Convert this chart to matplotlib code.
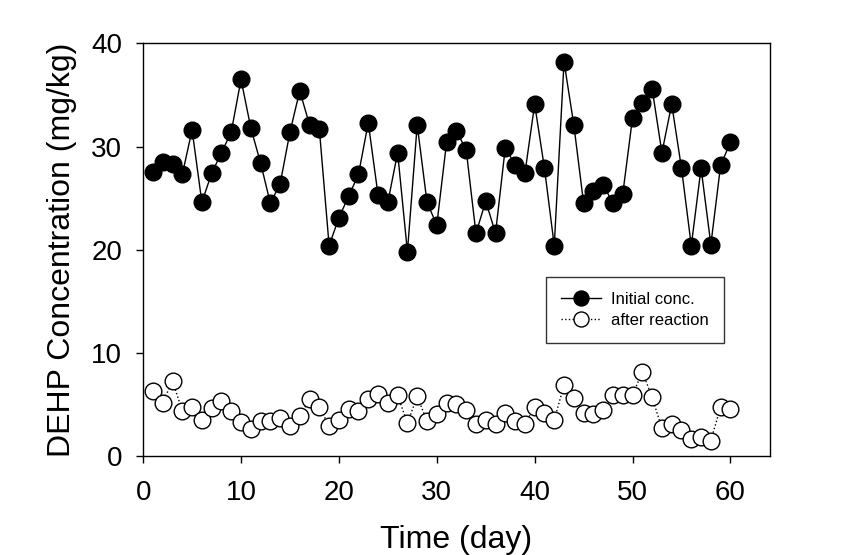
import matplotlib
matplotlib.use("Agg")
import matplotlib.pyplot as plt

plt.rcParams['font.family'] = ['Liberation Sans', 'DejaVu Sans']

days = list(range(1, 61))

initial = [27.5, 28.5, 28.3, 27.3, 31.6, 24.6, 27.4, 29.4, 31.4, 36.5,
           31.8, 28.4, 24.5, 26.4, 31.4, 35.4, 32.1, 31.7, 20.4, 23.1,
           25.2, 27.3, 32.3, 25.3, 24.6, 29.4, 19.8, 32.1, 24.6, 22.4,
           30.4, 31.5, 29.7, 21.6, 24.7, 21.6, 29.9, 28.2, 27.4, 34.1,
           27.9, 20.4, 38.2, 32.1, 24.5, 25.7, 26.3, 24.5, 25.4, 32.8,
           34.2, 35.6, 29.4, 34.1, 27.9, 20.4, 27.9, 20.5, 28.2, 30.4]

after = [6.3, 5.2, 7.3, 4.4, 4.8, 3.5, 4.7, 5.3, 4.4, 3.3,
         2.6, 3.4, 3.4, 3.7, 2.9, 3.9, 5.5, 4.8, 2.9, 3.5,
         4.6, 4.4, 5.5, 6.0, 5.2, 5.9, 3.2, 5.8, 3.4, 4.1,
         5.2, 5.1, 4.5, 3.1, 3.5, 3.1, 4.2, 3.4, 3.1, 4.8,
         4.2, 3.5, 6.9, 5.6, 4.2, 4.1, 4.5, 5.9, 5.9, 5.9,
         8.2, 5.7, 2.7, 3.1, 2.5, 1.7, 1.9, 1.5, 4.8, 4.6]

fig = plt.figure(figsize=(8.42, 5.55), dpi=100)
ax = fig.add_axes([0.170, 0.178, 0.744, 0.744])

ax.plot(days, initial, '-', color='black', lw=1.0, marker='o', ms=12,
        mfc='black', mec='black', label='Initial conc.')
ax.plot(days, after, ':', color='black', lw=1.0, marker='o', ms=12,
        mfc='white', mec='black', mew=1.0, label='after reaction')

ax.set_xlim(0, 64)
ax.set_ylim(0, 40)
ax.set_xticks([0, 10, 20, 30, 40, 50, 60])
ax.set_yticks([0, 10, 20, 30, 40])
ax.tick_params(direction='out', length=5, width=1, labelsize=20)
ax.tick_params(axis='x', pad=12)
ax.tick_params(axis='y', pad=10)
for s in ax.spines.values():
    s.set_linewidth(1.0)

ax.set_xlabel('Time (day)', fontsize=23, labelpad=14)
ax.set_ylabel('DEHP Concentration (mg/kg)', fontsize=23, labelpad=10)

leg = ax.legend(loc='upper left', bbox_to_anchor=(0.63, 0.455), fontsize=12,
                markerscale=0.9, frameon=True, fancybox=False,
                edgecolor='black', handlelength=2.4, handletextpad=0.6,
                borderpad=0.9, labelspacing=0.4)
leg.get_frame().set_linewidth(1.0)

fig.savefig('out.png', dpi=100)
